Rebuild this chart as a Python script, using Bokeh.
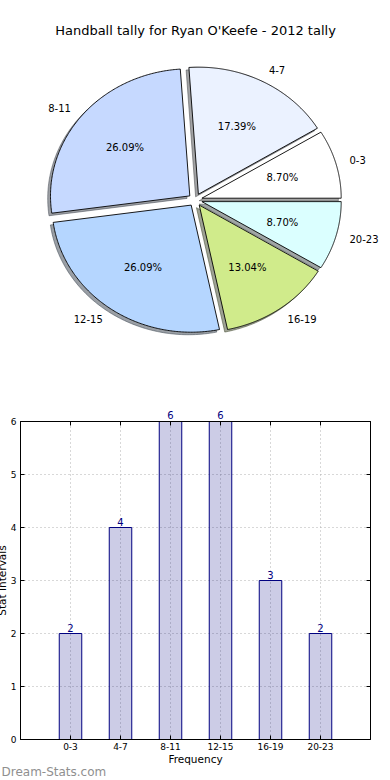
import numpy as np
from bokeh.plotting import figure
from bokeh.models import Range1d, Label, FixedTicker, LinearAxis, Title
from bokeh.embed import file_html
from bokeh.resources import INLINE
from bokeh.core.properties import value

# ---------------- data ----------------
categories = ["0-3", "4-7", "8-11", "12-15", "16-19", "20-23"]
counts = [2, 4, 6, 6, 3, 2]
slice_colors = ["#ffffff", "#ebf2ff", "#c6d9ff", "#b5d6ff", "#d0eb8b", "#dbffff"]
pie_title = "Handball tally for Ryan O'Keefe - 2012 tally"
x_label = "Frequency"
y_label = "Stat Intervals"
y_ticks = [0, 1, 2, 3, 4, 5, 6]
watermark = "Dream-Stats.com"

FONT = "DejaVu Sans"
EXPLODE = 0.05

# ---------------- pie ----------------
n = len(counts)
total = float(sum(counts))
fracs = np.array(counts) / total
edges = np.concatenate([[0.0], np.cumsum(fracs)]) * 2 * np.pi

p1 = figure(width=390, height=390,
            x_range=Range1d(-1.3977, 1.4020), y_range=Range1d(-1.4996, 1.5689),
            x_axis_location=None, y_axis_location=None,
            toolbar_location=None, output_backend="svg", min_border=0)
p1.xgrid.visible = False
p1.ygrid.visible = False
p1.outline_line_color = None


def shade(hexcol, k=0.3):
    h = hexcol.lstrip("#")
    r, g, b = (int(h[i:i + 2], 16) for i in (0, 2, 4))
    return "#%02x%02x%02x" % (int(r * k), int(g * k), int(b * k))


xs, ys, sxs, sys_ = [], [], [], []
lx_l, ly_l, lt_l, lx_r, ly_r, lt_r = [], [], [], [], [], []
px_, py_, pt_ = [], [], []
for i in range(n):
    t1, t2 = edges[i], edges[i + 1]
    mid = 0.5 * (t1 + t2)
    ox, oy = EXPLODE * np.cos(mid), EXPLODE * np.sin(mid)
    th = np.linspace(t1, t2, 150)
    wx = np.concatenate([[ox], ox + np.cos(th)])
    wy = np.concatenate([[oy], oy + np.sin(th)])
    xs.append(wx.tolist())
    ys.append(wy.tolist())
    sxs.append((wx - 0.02).tolist())
    sys_.append((wy - 0.02).tolist())
    lx = ox + 1.1 * np.cos(mid)
    ly = oy + 1.1 * np.sin(mid)
    if lx > 0:
        lx_l.append(lx); ly_l.append(ly); lt_l.append(categories[i])
    else:
        lx_r.append(lx); ly_r.append(ly); lt_r.append(categories[i])
    px_.append(ox + 0.6 * np.cos(mid))
    py_.append(oy + 0.6 * np.sin(mid))
    pt_.append("%.2f%%" % (fracs[i] * 100))

shadow_cols = [shade(c) for c in slice_colors]
p1.patches(sxs, sys_, fill_color=shadow_cols, fill_alpha=0.5,
           line_color=shadow_cols, line_alpha=0.5, line_width=1)
p1.patches(xs, ys, fill_color=slice_colors, line_color="black", line_width=0.9)

txt = dict(text_font=value(FONT), text_font_size="10px", text_color="black",
           text_baseline="middle")
p1.text(x=lx_l, y=ly_l, text=lt_l, text_align="left", **txt)
p1.text(x=lx_r, y=ly_r, text=lt_r, text_align="right", **txt)
p1.text(x=px_, y=py_, text=pt_, text_align="center", **txt)

p1.add_layout(Label(x=195, y=360, x_units="screen", y_units="screen", text=pie_title,
                    text_align="center", text_baseline="middle",
                    text_font=FONT, text_font_size="13px", text_color="black"))

# ---------------- bar ----------------
xpos = list(range(len(categories)))
y_top = y_ticks[-1]
p2 = figure(width=398, height=388, x_range=Range1d(-1, 6), y_range=Range1d(0, y_top),
            toolbar_location=None, output_backend="svg",
            min_border_left=27, min_border_right=20, min_border_top=31, min_border_bottom=38,
            margin=(0, 0, 0, -8))
p2.outline_line_color = "black"
p2.outline_line_width = 1

for g, tk in ((p2.xgrid, xpos), (p2.ygrid, y_ticks)):
    g.ticker = FixedTicker(ticks=tk)
    g.grid_line_color = "#b0b0b0"
    g.grid_line_dash = "1 3"
    g.grid_line_width = 1

p2.vbar(x=xpos, top=counts, width=0.45, fill_color="navy", fill_alpha=0.2,
        line_color="navy", line_width=1)

xa = p2.xaxis[0]
xa.ticker = FixedTicker(ticks=xpos)
xa.major_label_overrides = {i: c for i, c in zip(xpos, categories)}
ya = p2.yaxis[0]
ya.ticker = FixedTicker(ticks=y_ticks)
for ax in (xa, ya):
    ax.major_tick_in = 4
    ax.major_tick_out = 0
    ax.minor_tick_line_color = None
    ax.axis_line_color = "black"
    ax.major_tick_line_color = "black"
    ax.major_label_text_font = FONT
    ax.major_label_text_font_size = "9px"
    ax.major_label_text_color = "black"
    ax.axis_label_text_font = FONT
    ax.axis_label_text_font_size = "10.5px"
    ax.axis_label_text_font_style = "normal"
    ax.axis_label_text_color = "black"
    ax.axis_label_standoff = 0
xa.major_label_standoff = 3
ya.major_label_standoff = 4
xa.axis_label = x_label
ya.axis_label = y_label

# tick marks on top and right (no labels)
for loc, tk in (("above", xpos), ("right", y_ticks)):
    ax = LinearAxis(ticker=FixedTicker(ticks=tk))
    ax.major_tick_in = 4
    ax.major_tick_out = 0
    ax.minor_tick_line_color = None
    ax.major_label_text_font_size = "1px"
    ax.major_label_text_color = None
    ax.major_label_standoff = 0
    ax.axis_line_color = "black"
    p2.add_layout(ax, loc)

# value labels: bars reaching the top of the range get theirs just above the frame
top_x = [xv for xv, cv in zip(xpos, counts) if cv >= y_top]
top_ax = LinearAxis(ticker=FixedTicker(ticks=top_x),
                    major_label_overrides={xv: str(cv) for xv, cv in zip(xpos, counts) if cv >= y_top})
top_ax.axis_line_color = None
top_ax.major_tick_line_color = None
top_ax.minor_tick_line_color = None
top_ax.major_tick_in = 0
top_ax.major_tick_out = 0
top_ax.major_label_standoff = 3
top_ax.major_label_text_color = "navy"
top_ax.major_label_text_font = FONT
top_ax.major_label_text_font_size = "10px"
p2.add_layout(top_ax, "above")

for xv, cv in zip(xpos, counts):
    if cv < y_top:
        p2.add_layout(Label(x=xv, y=cv, text=str(cv), text_align="center",
                            text_baseline="alphabetic", y_offset=6, text_color="navy",
                            text_font=FONT, text_font_size="10px"))

p2.add_layout(Title(text=watermark, align="left", offset=-19, standoff=-5,
                    vertical_align="top", text_font=FONT, text_font_size="12px",
                    text_font_style="normal", text_color="#8f8f8f"), "below")

open("out.html", "w").write(file_html([p1, p2], INLINE))
